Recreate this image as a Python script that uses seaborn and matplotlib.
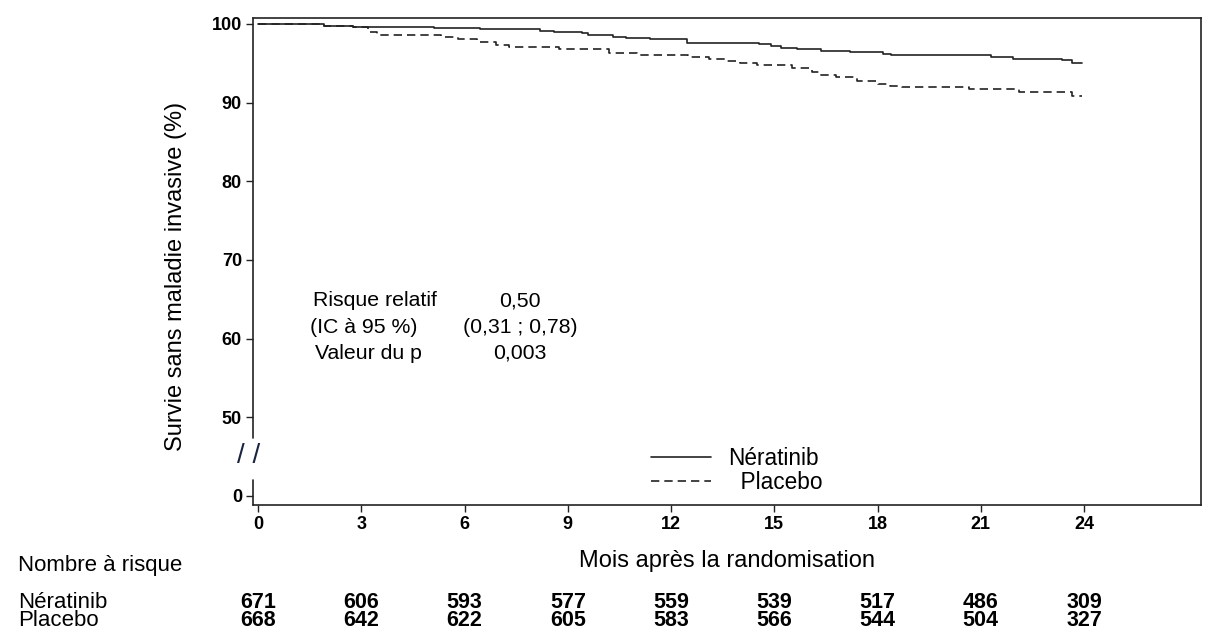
import matplotlib
matplotlib.use("Agg")
import matplotlib.pyplot as plt
import matplotlib.transforms as mtransforms
import seaborn as sns
import pandas as pd

# Kaplan-Meier steps (months, % event-free)
neratinib_t = [0, 1.9, 2.75, 5.1, 6.45, 8.2, 8.6, 9.4, 9.6, 10.3, 10.7, 11.4, 12.45,
               14.55, 14.9, 15.2, 15.65, 16.35, 17.2, 18.15, 18.4, 21.3, 21.95,
               23.35, 23.65, 23.95]
neratinib_s = [100, 99.8, 99.65, 99.5, 99.3, 99.15, 99.0, 98.8, 98.6, 98.4, 98.2, 98.05,
               97.6, 97.45, 97.25, 96.95, 96.8, 96.6, 96.4, 96.2, 96.05, 95.75, 95.6,
               95.4, 95.05, 95.05]
placebo_t = [0, 1.9, 2.75, 3.2, 3.45, 5.3, 5.8, 6.35, 6.9, 7.3, 8.75, 10.2, 11.0, 12.5,
             13.1, 13.6, 14.0, 14.5, 15.5, 16.1, 16.3, 16.8, 17.4, 18.0, 18.35, 18.7,
             20.65, 22.1, 23.65, 23.95]
placebo_s = [100, 99.8, 99.6, 99.0, 98.6, 98.4, 98.1, 97.75, 97.3, 97.1, 96.8, 96.25,
             96.05, 95.75, 95.55, 95.3, 95.1, 94.8, 94.35, 93.85, 93.5, 93.2, 92.8,
             92.35, 92.1, 91.95, 91.7, 91.3, 90.9, 90.9]

arms = ["Nératinib", "Placebo"]
months = [0, 3, 6, 9, 12, 15, 18, 21, 24]
at_risk_neratinib = [671, 606, 593, 577, 559, 539, 517, 486, 309]
at_risk_placebo = [668, 642, 622, 605, 583, 566, 544, 504, 327]

# broken y axis: "0" is drawn where 40 would be
ytick_pos = [40, 50, 60, 70, 80, 90, 100]
ytick_labels = ["0", "50", "60", "70", "80", "90", "100"]

stats_labels = ["Risque relatif", "(IC à 95 %)", "Valeur du p"]
stats_values = ["0,50", "(0,31 ; 0,78)", "0,003"]

sns.set_style("ticks")
plt.rcParams["font.family"] = ["Liberation Sans", "DejaVu Sans"]
plt.rcParams["text.color"] = "black"
plt.rcParams["axes.labelcolor"] = "black"
plt.rcParams["xtick.color"] = "black"
plt.rcParams["ytick.color"] = "black"

ink = "#222222"
fig = plt.figure(figsize=(12.05, 6.3), dpi=100)
ax = fig.add_axes([253 / 1205, 1 - 505 / 630, 948 / 1205, 487 / 630])

df_n = pd.DataFrame({"t": neratinib_t, "s": neratinib_s})
df_p = pd.DataFrame({"t": placebo_t, "s": placebo_s})
sns.lineplot(data=df_n, x="t", y="s", drawstyle="steps-post", color=ink,
             linewidth=1.2, label=arms[0], legend=False, ax=ax)
sns.lineplot(data=df_p, x="t", y="s", drawstyle="steps-post", color=ink,
             linewidth=1.2, linestyle=(0, (5, 3)), label="  " + arms[1],
             legend=False, ax=ax)

ax.set_xlim(-0.15, 27.4)
ax.set_ylim(38.85, 100.76)
ax.set_xticks(months)
ax.set_yticks(ytick_pos)
ax.set_yticklabels(ytick_labels)
ax.tick_params(axis="both", direction="out", length=5, width=1, color=ink,
               labelsize=13, pad=3)
for lab in ax.get_xticklabels() + ax.get_yticklabels():
    lab.set_fontweight("bold")

for side in ["top", "right", "bottom"]:
    ax.spines[side].set_color(ink)
    ax.spines[side].set_linewidth(1.2)
ax.spines["left"].set_visible(False)
x0 = ax.get_xlim()[0]
ax.axvline(x0, ymin=0.1376, ymax=1, color=ink, lw=1.2, clip_on=False)
ax.axvline(x0, ymin=0, ymax=0.051, color=ink, lw=1.2, clip_on=False)
ax.text(-0.005, 0.1, "/ /", transform=ax.transAxes, ha="center", va="center",
        fontsize=20, color="#1a2440")

ax.set_xlabel("Mois après la randomisation", fontsize=17, labelpad=12)
ax.set_ylabel("Survie sans maladie invasive (%)", fontsize=17)
ax.yaxis.set_label_coords(-0.0696, 0.470)

for i, (lab, val) in enumerate(zip(stats_labels, stats_values)):
    y = [0.419, 0.3655, 0.312][i]
    xl = [313, 310, 315][i]
    ax.text((xl - 253) / 948, y, lab, transform=ax.transAxes, ha="left",
            va="center", fontsize=15.3)
    ax.text((520 - 253) / 948, y, val, transform=ax.transAxes, ha="center",
            va="center", fontsize=15.3)

ax.legend(loc="upper left", bbox_to_anchor=((651 - 253) / 948, 0.119),
          frameon=False, fontsize=16.3, handlelength=2.65, handletextpad=0.75,
          borderpad=0, borderaxespad=0, labelspacing=0.05)

# number at risk table
fig.text(18 / 1205, 1 - 565 / 630, "Nombre à risque", ha="left", va="center",
         fontsize=16)
trans = mtransforms.blended_transform_factory(ax.transData, fig.transFigure)
for arm, counts, ypx in [(arms[0], at_risk_neratinib, 602),
                         (arms[1], at_risk_placebo, 621)]:
    fig.text(18 / 1205, 1 - ypx / 630, arm, ha="left", va="center", fontsize=16)
    for m, n in zip(months, counts):
        ax.text(m, 1 - ypx / 630, str(n), transform=trans, ha="center",
                va="center", fontsize=15.5, fontweight="bold")

fig.savefig("out.png", dpi=100)
